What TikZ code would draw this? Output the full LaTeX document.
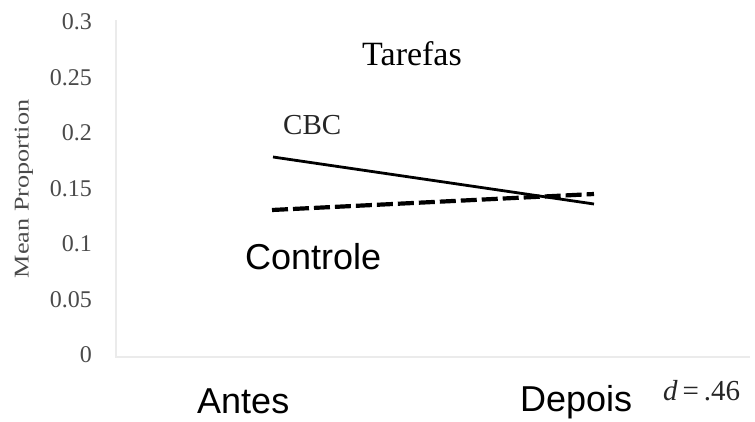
\documentclass[tikz,border=0pt]{standalone}
\usepackage{fontspec}
\setmainfont{Liberation Serif}
\newfontfamily\arialf{Liberation Sans}
\definecolor{ticktext}{HTML}{4A4A4A}
\definecolor{axisgray}{HTML}{EBEBEB}
\begin{document}
\begin{tikzpicture}[x=1pt,y=-1pt,
  ticklbl/.style={anchor=east,inner sep=0pt,text=ticktext,font=\fontsize{24}{26}\selectfont},
  sanslbl/.style={anchor=base west,inner sep=0pt,font=\arialf\fontsize{36}{40}\selectfont},
  axisline/.style={draw=axisgray,line width=1.6pt},
  cbcline/.style={draw=black,line width=2.8pt},
  ctlline/.style={draw=black,line width=4.2pt,dash pattern=on 16pt off 5pt}]
\useasboundingbox (0,0) rectangle (755,421);
% axes
\coordinate (ytop) at (116,20);
\coordinate (orig) at (116,357);
\coordinate (xend) at (750,357);
\draw[axisline] (ytop) -- (orig) -- (xend);
% tick labels
\foreach \v/\lab [count=\i from 0] in {0/0,0.05/0.05,0.1/0.1,0.15/0.15,0.2/0.2,0.25/0.25,0.3/0.3}
  \node[ticklbl] (tick\i) at (92,{355-55.5*\i}) {\lab};
% y label
\node[rotate=90,xscale=1.25,inner sep=0pt,text=ticktext,font=\fontsize{21}{24}\selectfont] (ylab) at (24,189) {Mean Proportion};
% title
\node[anchor=base,inner sep=0pt,font=\fontsize{34}{38}\selectfont] (title) at (412,65) {Tarefas};
% data lines
\coordinate (cbcA) at (273,157);
\coordinate (cbcB) at (594,204);
\coordinate (ctlA) at (272,210);
\coordinate (ctlB) at (594,194);
\draw[cbcline] (cbcA) -- (cbcB);
\draw[ctlline] (ctlA) -- (ctlB);
% labels
\node[anchor=base west,inner sep=0pt,text=black!85,font=\fontsize{29}{32}\selectfont] (cbc) at (283,134) {CBC};
\node[sanslbl] (ctl) at (245,269) {Controle};
\node[sanslbl] (antes) at (197,413) {Antes};
\node[sanslbl] (depois) at (520,411) {Depois};
\node[anchor=base west,inner sep=0pt,text=black!85,font=\fontsize{29}{30}\selectfont] (dval) at (663,400) {\textit{d}\,=\,.46};
\end{tikzpicture}
\end{document}
